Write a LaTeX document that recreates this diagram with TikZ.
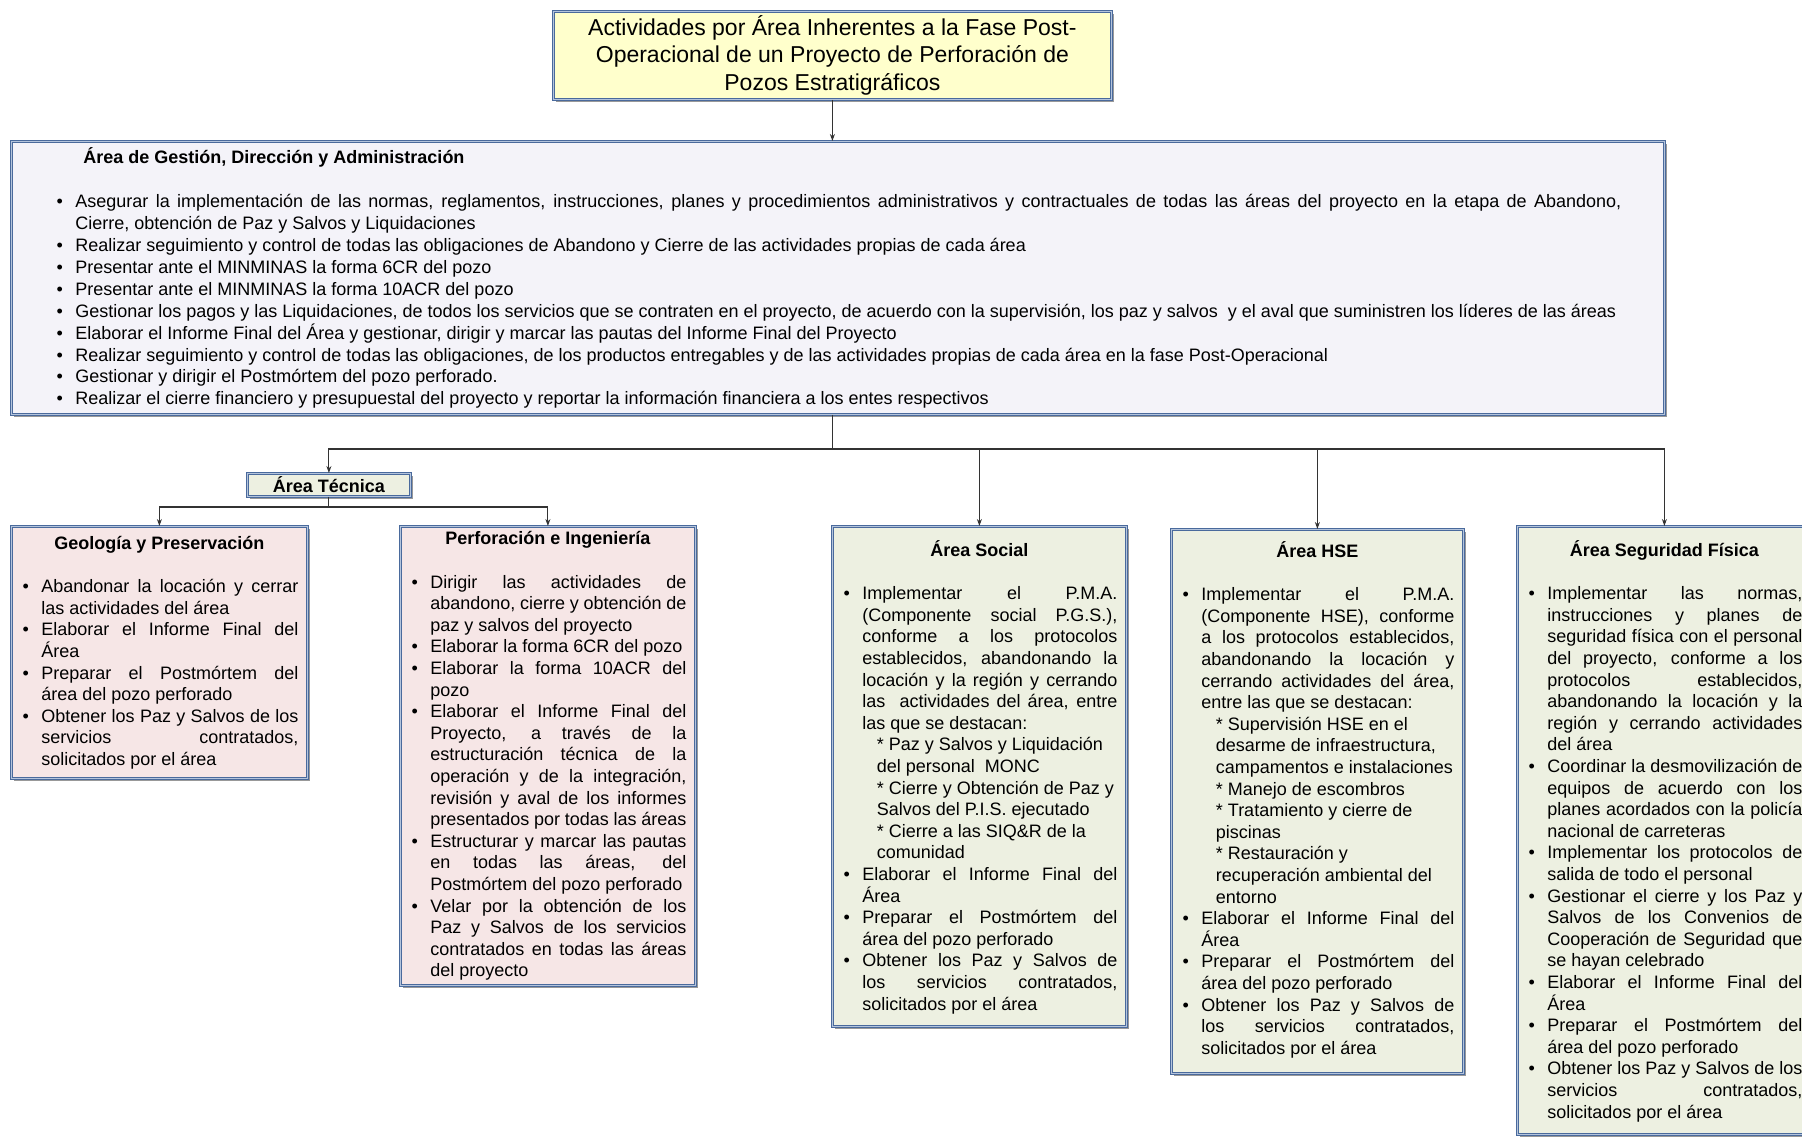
\documentclass[tikz,border=0pt]{standalone}
\usepackage{fontspec}
\setmainfont{Liberation Sans}
\usepackage{enumitem}
\usetikzlibrary{arrows.meta,shadows}

\definecolor{borde}{HTML}{4A6A9C}
\definecolor{bordeclaro}{HTML}{B4C4DC}
\definecolor{amarillo}{HTML}{FFFFCC}
\definecolor{lila}{HTML}{F4F3F9}
\definecolor{rosa}{HTML}{F6E6E6}
\definecolor{verde}{HTML}{EDF0E1}
\definecolor{linea}{HTML}{333333}

\setlength{\parskip}{0pt}
\setlist[itemize]{label=\textbullet,leftmargin=21pt,labelsep=12.5pt,itemsep=0pt,topsep=0pt,parsep=0pt,partopsep=0pt}
\hyphenpenalty=10000
\exhyphenpenalty=10000
\hbadness=10000
\hfuzz=4pt

% box text: width, height, gap above title, content
\newcommand{\bloque}[4]{%
  \begin{minipage}[t][#2][t]{#1}\fontsize{18}{21.6}\selectfont\vspace*{#3}#4\end{minipage}}
\newcommand{\encabezado}[1]{{\centering\rule{0pt}{18pt}\textbf{#1}\par}\vspace{\baselineskip}}
\newcommand{\sangria}[1]{\newline\hspace*{14.5pt}#1}

\begin{document}
\begin{tikzpicture}[x=1pt,y=-1pt,
  caja/.style={draw=borde,double=bordeclaro,double distance=1pt,line width=0.8pt,
    drop shadow={shadow xshift=2.5pt,shadow yshift=-2.5pt,fill=black!40,opacity=1},
    anchor=north west,inner ysep=0pt,inner xsep=9pt},
  conector/.style={draw=linea,line width=1.1pt},
  flecha/.style={conector,-{Stealth[length=7pt,width=5pt]}}]
  \useasboundingbox (0,0) rectangle (1802,1137);

  %title
  \node[caja,fill=amarillo,inner sep=0pt,minimum width=558pt,minimum height=88pt,align=center,
    font=\fontsize{23}{27.6}\selectfont] (titulo) at (553,11)
    {Actividades por Área Inherentes a la Fase Post-\\Operacional de un Proyecto de Perforación de\\Pozos Estratigráficos};

  %management
  \node[caja,fill=lila,inner xsep=43pt] (gestion) at (11,141) {\bloque{1567pt}{273pt}{4.5pt}{%
    \fontsize{18}{21.9}\selectfont
    \hspace*{29pt}\rule{0pt}{18pt}\textbf{Área de Gestión, Dirección y Administración}\par
    \vspace{\baselineskip}
    \begin{itemize}
      \item Asegurar la implementación de las normas, reglamentos, instrucciones, planes y procedimientos administrativos y contractuales de todas las áreas del proyecto en la etapa de Abandono,\linebreak Cierre, obtención de Paz y Salvos y Liquidaciones
      \item Realizar seguimiento y control de todas las obligaciones de Abandono y Cierre de las actividades propias de cada área
      \item Presentar ante el MINMINAS la forma 6CR del pozo
      \item Presentar ante el MINMINAS la forma 10ACR del pozo
      \item Gestionar los pagos y las Liquidaciones, de todos los servicios que se contraten en el proyecto, de acuerdo con la supervisión, los paz y salvos\ \ y el aval que suministren los líderes de las áreas
      \item Elaborar el Informe Final del Área y gestionar, dirigir y marcar las pautas del Informe Final del Proyecto
      \item Realizar seguimiento y control de todas las obligaciones, de los productos entregables y de las actividades propias de cada área en la fase Post-Operacional
      \item Gestionar y dirigir el Postmórtem del pozo perforado.
      \item Realizar el cierre financiero y presupuestal del proyecto y reportar la información financiera a los entes respectivos
    \end{itemize}}};

  %technical
  \node[caja,fill=verde,inner sep=0pt,minimum width=163pt,minimum height=23pt,
    font=\fontsize{18}{21.6}\selectfont\bfseries] (tecnica) at (247,473) {Área Técnica};

  \node[caja,fill=rosa] (geologia) at (11,526) {\bloque{278pt}{252pt}{5pt}{%
    \encabezado{Geología y Preservación}
    \begin{itemize}
      \item Abandonar la locación y cerrar\linebreak las actividades del área
      \item Elaborar el Informe Final del\linebreak Área
      \item Preparar el Postmórtem del\linebreak área del pozo perforado
      \item Obtener los Paz y Salvos de los\linebreak servicios contratados,\linebreak solicitados por el área
    \end{itemize}}};

  \node[caja,fill=rosa] (perforacion) at (400,526) {\bloque{277pt}{459pt}{0.5pt}{%
    \encabezado{Perforación e Ingeniería}
    \begin{itemize}
      \item Dirigir las actividades de\linebreak abandono, cierre y obtención de\linebreak paz y salvos del proyecto
      \item Elaborar la forma 6CR del pozo
      \item Elaborar la forma 10ACR del\linebreak pozo
      \item Elaborar el Informe Final del\linebreak Proyecto, a través de la\linebreak estructuración técnica de la\linebreak operación y de la integración,\linebreak revisión y aval de los informes\linebreak presentados por todas las áreas
      \item Estructurar y marcar las pautas\linebreak en todas las áreas, del\linebreak Postmórtem del pozo perforado
      \item Velar por la obtención de los\linebreak Paz y Salvos de los servicios\linebreak contratados en todas las áreas\linebreak del proyecto
    \end{itemize}}};

  %social
  \node[caja,fill=verde] (social) at (832,526) {\bloque{276pt}{500pt}{12pt}{%
    \encabezado{Área Social}
    \begin{itemize}
      \item Implementar el P.M.A.\linebreak (Componente social P.G.S.),\linebreak conforme a los protocolos\linebreak establecidos, abandonando la\linebreak locación y la región y cerrando\linebreak las\ \ actividades del área, entre\linebreak las que se destacan:%
        \sangria{* Paz y Salvos y Liquidación}\sangria{del personal\ \ MONC}%
        \sangria{* Cierre y Obtención de Paz y}\sangria{Salvos del P.I.S. ejecutado}%
        \sangria{* Cierre a las SIQ\&R de la}\sangria{comunidad}
      \item Elaborar el Informe Final del\linebreak Área
      \item Preparar el Postmórtem del\linebreak área del pozo perforado
      \item Obtener los Paz y Salvos de\linebreak los servicios contratados,\linebreak solicitados por el área
    \end{itemize}}};

  %hse
  \node[caja,fill=verde] (hse) at (1171,529) {\bloque{274pt}{544pt}{10pt}{%
    \encabezado{Área HSE}
    \begin{itemize}
      \item Implementar el P.M.A.\linebreak (Componente HSE), conforme\linebreak a los protocolos establecidos,\linebreak abandonando la locación y\linebreak cerrando actividades del área,\linebreak entre las que se destacan:%
        \sangria{* Supervisión HSE en el}\sangria{desarme de infraestructura,}\sangria{campamentos e instalaciones}%
        \sangria{* Manejo de escombros}%
        \sangria{* Tratamiento y cierre de}\sangria{piscinas}%
        \sangria{* Restauración y}\sangria{recuperación ambiental del}\sangria{entorno}
      \item Elaborar el Informe Final del\linebreak Área
      \item Preparar el Postmórtem del\linebreak área del pozo perforado
      \item Obtener los Paz y Salvos de\linebreak los servicios contratados,\linebreak solicitados por el área
    \end{itemize}}};

  %security
  \node[caja,fill=verde] (seguridad) at (1517,526) {\bloque{276pt}{608pt}{12pt}{%
    \encabezado{Área Seguridad Física}
    \begin{itemize}
      \item Implementar las normas,\linebreak instrucciones y planes de\linebreak seguridad física con el personal\linebreak del proyecto, conforme a los\linebreak protocolos establecidos,\linebreak abandonando la locación y la\linebreak región y cerrando actividades\linebreak del área
      \item Coordinar la desmovilización de\linebreak equipos de acuerdo con los\linebreak planes acordados con la policía\linebreak nacional de carreteras
      \item Implementar los protocolos de\linebreak salida de todo el personal
      \item Gestionar el cierre y los Paz y\linebreak Salvos de los Convenios de\linebreak Cooperación de Seguridad que\linebreak se hayan celebrado
      \item Elaborar el Informe Final del\linebreak Área
      \item Preparar el Postmórtem del\linebreak área del pozo perforado
      \item Obtener los Paz y Salvos de los\linebreak servicios contratados,\linebreak solicitados por el área
    \end{itemize}}};

  %connectors
  \coordinate (reparto) at (titulo.south |- 0,449);
  \coordinate (ramal) at (tecnica.south |- 0,507);
  \draw[flecha] (titulo.south) -- (titulo.south |- gestion.north);
  \draw[conector] (titulo.south |- gestion.south) -- (reparto);
  \draw[flecha] (reparto) -| (tecnica.north);
  \draw[flecha] (reparto) -| (social.north);
  \draw[flecha] (reparto) -| (hse.north);
  \draw[flecha] (reparto) -| (seguridad.north);
  \draw[conector] (tecnica.south) -- (ramal);
  \draw[flecha] (ramal) -| (geologia.north);
  \draw[flecha] (ramal) -| (perforacion.north);
\end{tikzpicture}
\end{document}
